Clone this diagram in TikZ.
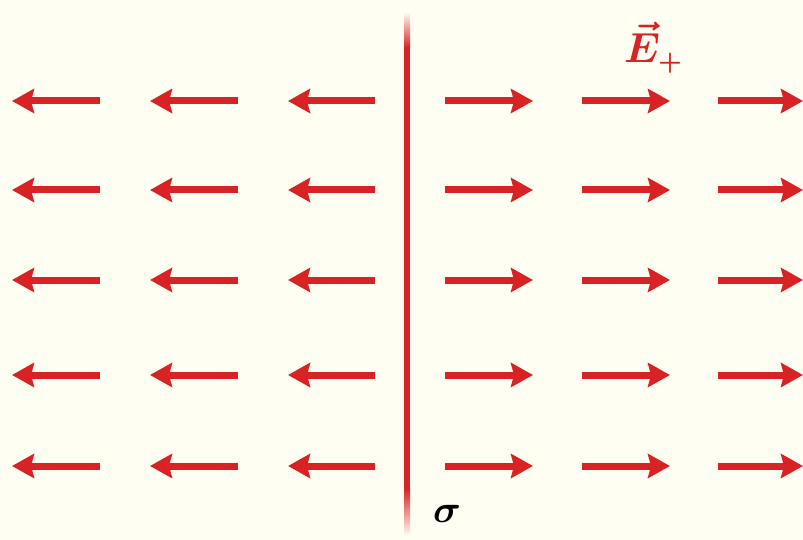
\documentclass[tikz,border=0pt]{standalone}
\usepackage{bm}
\usetikzlibrary{arrows.meta}
\definecolor{bg}{HTML}{FFFEF2}
\definecolor{fieldred}{HTML}{D92223}
\begin{document}
\begin{tikzpicture}[x=1pt,y=-1pt,
  field/.style={draw=fieldred,line width=7pt,-{Stealth[length=22pt,width=24pt,inset=3pt]}},
  lbl/.style={inner sep=0pt,scale=4.2}]
\fill[bg] (0,0) rectangle (803,540);
\useasboundingbox (0,0) rectangle (803,540);
% plate
\shade[top color=bg,bottom color=fieldred] (404,12) rectangle (410,48);
\fill[fieldred] (404,47.5) rectangle (410,488.5);
\shade[top color=fieldred,bottom color=bg] (404,488) rectangle (410,536);
% arrows
\foreach \y [count=\i] in {101,190,280,375,466}{
  \coordinate (l1s\i) at (100,\y); \coordinate (l1e\i) at (12,\y);
  \coordinate (l2s\i) at (238,\y); \coordinate (l2e\i) at (150,\y);
  \coordinate (l3s\i) at (375,\y); \coordinate (l3e\i) at (288,\y);
  \coordinate (r1s\i) at (445,\y); \coordinate (r1e\i) at (533,\y);
  \coordinate (r2s\i) at (582,\y); \coordinate (r2e\i) at (670,\y);
  \coordinate (r3s\i) at (718,\y); \coordinate (r3e\i) at (803,\y);
  \draw[field] (l1s\i) -- (l1e\i);
  \draw[field] (l2s\i) -- (l2e\i);
  \draw[field] (l3s\i) -- (l3e\i);
  \draw[field] (r1s\i) -- (r1e\i);
  \draw[field] (r2s\i) -- (r2e\i);
  \draw[field] (r3s\i) -- (r3e\i);
}
\node[lbl,text=fieldred] (E) at (654,48) {$\bm{\vec{E}_{\scriptscriptstyle +}}$};
\node[lbl,scale=0.92] (sigma) at (447,514) {$\bm{\sigma}$};
\end{tikzpicture}
\end{document}
